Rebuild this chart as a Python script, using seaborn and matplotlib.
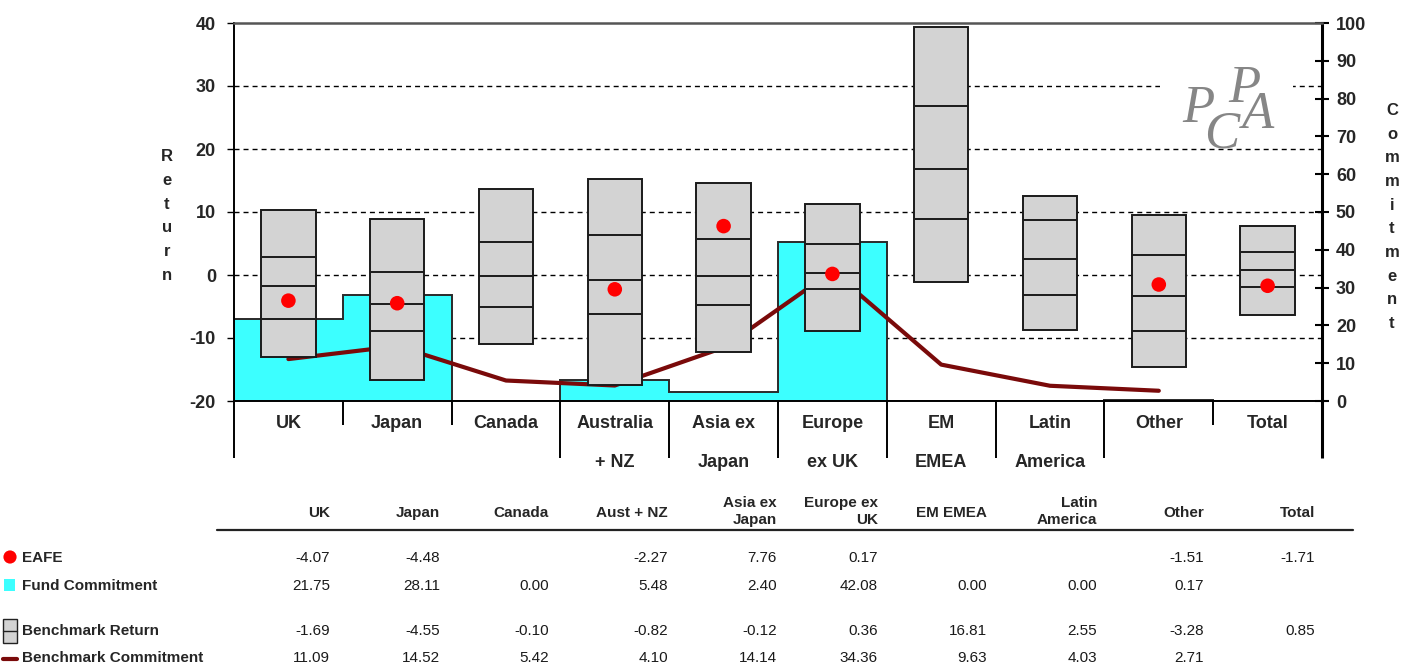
import numpy as np
import matplotlib
matplotlib.use("Agg")
import matplotlib.pyplot as plt
import matplotlib.transforms as mtransforms
from matplotlib.patches import Rectangle
from matplotlib import font_manager
import seaborn as sns

# ---------------- data ----------------
categories = ["UK", "Japan", "Canada", "Australia\n+ NZ", "Asia ex\nJapan",
              "Europe\nex UK", "EM\nEMEA", "Latin\nAmerica", "Other", "Total"]
table_headers = ["UK", "Japan", "Canada", "Aust + NZ", "Asia ex\nJapan",
                 "Europe ex\nUK", "EM EMEA", "Latin\nAmerica", "Other", "Total"]
nan = np.nan
eafe = [-4.07, -4.48, nan, -2.27, 7.76, 0.17, nan, nan, -1.51, -1.71]
fund_commitment = [21.75, 28.11, 0.00, 5.48, 2.40, 42.08, 0.00, 0.00, 0.17, nan]
bench_return = [-1.69, -4.55, -0.10, -0.82, -0.12, 0.36, 16.81, 2.55, -3.28, 0.85]
bench_commitment = [11.09, 14.52, 5.42, 4.10, 14.14, 34.36, 9.63, 4.03, 2.71, nan]
# benchmark return range (5th / 25th / 75th / 95th percentiles)
p95 = [10.3, 8.9, 13.6, 15.2, 14.55, 11.3, 39.3, 12.6, 9.6, 7.8]
p75 = [2.9, 0.4, 5.3, 6.35, 5.65, 4.97, 26.8, 8.7, 3.17, 3.6]
p25 = [-7.0, -8.9, -5.1, -6.2, -4.76, -2.17, 8.9, -3.1, -8.9, -1.95]
p05 = [-13.0, -16.6, -11.0, -17.5, -12.3, -8.9, -1.06, -8.7, -14.6, -6.35]
return_ticks = [-20, -10, 0, 10, 20, 30, 40]
commit_ticks = [0, 10, 20, 30, 40, 50, 60, 70, 80, 90, 100]
row_labels = ["EAFE", "Fund Commitment", "Benchmark Return", "Benchmark Commitment"]

# ---------------- style ----------------
sns.set_style("white")
names = {f.name for f in font_manager.fontManager.ttflist}
SANS = "Liberation Sans" if "Liberation Sans" in names else "DejaVu Sans"
SERIF = "Liberation Serif" if "Liberation Serif" in names else "DejaVu Serif"
plt.rcParams["font.family"] = [SANS, "DejaVu Sans"]

CYAN = "#3cffff"
BOXGRAY = "#d3d3d3"
MAROON = "#7a0a0a"

W, H = 1411, 667
fig = plt.figure(figsize=(W / 100, H / 100), dpi=100)
fig.patch.set_facecolor("white")

L, R, T, B = 234, 1322, 23, 401
pos = [L / W, 1 - B / H, (R - L) / W, (B - T) / H]

ax_base = fig.add_axes(pos, zorder=0)
ax_com = ax_base.twinx()
ax_com.set_zorder(1)
ax_top = fig.add_axes(pos, sharex=ax_base, sharey=ax_base, zorder=2)
ax_top.patch.set_visible(False)
ax_com.patch.set_visible(False)

n = len(categories)
x = np.arange(n)
ax_base.set_xlim(-0.5, n - 0.5)
ax_base.set_ylim(-20, 40)
ax_com.set_ylim(0, 100)

# ---- base axis: gridlines + left ticks ----
ax_base.set_yticks(return_ticks)
ax_base.set_yticklabels([str(t) for t in return_ticks], fontsize=13, fontweight="bold")
ax_base.tick_params(axis="y", direction="out", length=5, width=1, pad=8, left=True, color="black")
ax_base.set_xticks([])
ax_base.yaxis.grid(True, color="black", lw=1, ls=(0, (3.6, 2.9)))
gl = ax_base.get_ygridlines()
gl[0].set_visible(False)
gl[-1].set_visible(False)
for s in ax_base.spines.values():
    s.set_visible(False)

# ---- commitment axis: cyan fund commitment + benchmark commitment line ----
edges = np.arange(n + 1) - 0.5
fc = np.nan_to_num(np.array(fund_commitment, dtype=float))
ax_com.stairs(fc, edges, fill=True, color=CYAN, baseline=0, zorder=1)
ax_com.stairs(fc, edges, fill=False, edgecolor="#2a2a2a", lw=1.4, baseline=0, zorder=1.1)
bc = np.array(bench_commitment, dtype=float)
ok = ~np.isnan(bc)
sns.lineplot(x=x[ok], y=bc[ok], ax=ax_com, color=MAROON, lw=3, sort=False, zorder=2)
ax_com.set_xlabel("")
ax_com.set_ylabel("")
ax_com.set_yticks(commit_ticks)
ax_com.set_yticklabels([str(t) for t in commit_ticks], fontsize=13, fontweight="bold")
ax_com.tick_params(axis="y", direction="inout", length=10, width=1.5, pad=5, right=True, color="black")
for s in ax_com.spines.values():
    s.set_visible(False)

# ---- top axis: boxes, dots, spines ----
lo = np.array(p05); hi = np.array(p95)
ax_top.bar(x, hi - lo, bottom=lo, width=0.5, color=BOXGRAY, edgecolor="#1a1a1a", lw=1.4, zorder=2)
for arr in (p25, bench_return, p75):
    ax_top.hlines(arr, x - 0.245, x + 0.245, color="#1a1a1a", lw=1.4, zorder=3)
ea = np.array(eafe, dtype=float)
ok = ~np.isnan(ea)
sns.scatterplot(x=x[ok], y=ea[ok], ax=ax_top, color="#ff0000", s=110, edgecolor="none", zorder=4)
ax_top.set_xlabel(""); ax_top.set_ylabel("")
ax_top.tick_params(left=False, bottom=False, labelleft=False, labelbottom=False)
for side in ("left", "bottom", "right", "top"):
    ax_top.spines[side].set_visible(True)
ax_top.spines["left"].set_color("black"); ax_top.spines["left"].set_linewidth(1.4)
ax_top.spines["bottom"].set_color("black"); ax_top.spines["bottom"].set_linewidth(1.4)
ax_top.spines["right"].set_color("black"); ax_top.spines["right"].set_linewidth(2.2)
ax_top.spines["top"].set_color("#555555"); ax_top.spines["top"].set_linewidth(1.8)

# ---- category separators and labels below the plot ----
px_per_axes = (B - T)
long_y = -(458 - B) / px_per_axes
short_y = -(425 - B) / px_per_axes
blend = mtransforms.blended_transform_factory(ax_top.transData, ax_top.transAxes)
nlines = [c.count("\n") + 1 for c in categories]
for i in range(n + 1):
    left_multi = nlines[i - 1] > 1 if i > 0 else True
    right_multi = nlines[i] > 1 if i < n else True
    yend = long_y if (left_multi or right_multi) else short_y
    lw = 2.2 if i == n else 1.4
    ax_top.plot([i - 0.5, i - 0.5], [0, yend], transform=blend, color="black",
                lw=lw, clip_on=False, solid_capstyle="butt")
line1_y = -(428 - B) / px_per_axes
line2_y = -(467 - B) / px_per_axes
for i, c in enumerate(categories):
    parts = c.split("\n")
    ax_top.text(i, line1_y, parts[0], transform=blend, ha="center", va="baseline",
                fontsize=13, fontweight="bold")
    if len(parts) > 1:
        ax_top.text(i, line2_y, parts[1], transform=blend, ha="center", va="baseline",
                    fontsize=13, fontweight="bold")

# ---- logo ----
def ax_frac(px, py):
    return (px - L) / (R - L), (B - py) / (B - T)

rx0, ry0 = ax_frac(1160, 92)
rx1, ry1 = ax_frac(1293, 80)
ax_base.add_patch(Rectangle((rx0, ry0), rx1 - rx0, ry1 - ry0, transform=ax_base.transAxes,
                            facecolor="white", edgecolor="none", zorder=5))
for ch, (lx, ly) in zip("PCPA", [(1198, 122), (1222, 147), (1244, 102), (1258, 128)]):
    fx, fy = ax_frac(lx, ly)
    ax_top.text(fx, fy, ch, transform=ax_top.transAxes, ha="center", va="baseline",
                fontsize=38, fontstyle="italic", family=SERIF, color="#868686", zorder=6)

# ---- axis titles (stacked letters) ----
fig.text(167 / W, 1 - 216 / H, "\n".join("Return"), ha="center", va="center",
         fontsize=12, fontweight="bold", linespacing=1.72)
fig.text(1392 / W, 1 - 217 / H, "\n".join("Commitment"), ha="center", va="center",
         fontsize=12, fontweight="bold", linespacing=1.72)

# ---------------- data table ----------------
ov = fig.add_axes([0, 0, 1, 1], zorder=10)
ov.set_xlim(0, W); ov.set_ylim(H, 0)
ov.axis("off")
ov.patch.set_visible(False)

col_right = [330, 440, 549, 668, 777, 878, 987, 1097, 1204, 1315]
row_y = [562, 590, 635, 662]
for cx, h in zip(col_right, table_headers):
    parts = h.split("\n")
    if len(parts) == 1:
        ov.text(cx, 517, parts[0], ha="right", va="baseline", fontsize=11, fontweight="bold")
    else:
        ov.text(cx, 507, parts[0], ha="right", va="baseline", fontsize=11, fontweight="bold")
        ov.text(cx, 524, parts[1], ha="right", va="baseline", fontsize=11, fontweight="bold")
ov.plot([217, 1353], [530, 530], color="#222222", lw=1.6)

rows = [eafe, fund_commitment, bench_return, bench_commitment]
for ry, vals in zip(row_y, rows):
    for cx, v in zip(col_right, vals):
        if v is None or (isinstance(v, float) and np.isnan(v)):
            continue
        ov.text(cx, ry, f"{v:.2f}", ha="right", va="baseline", fontsize=11, color="#1a1a1a")
for ry, lab in zip(row_y, row_labels):
    ov.text(22, ry, lab, ha="left", va="baseline", fontsize=11, fontweight="bold")

# legend icons
ov.scatter([10], [row_y[0] - 5], s=90, color="#ff0000", marker="o", edgecolor="none")
ov.add_patch(Rectangle((4, row_y[1] - 11), 11, 12, facecolor=CYAN, edgecolor="none"))
ov.add_patch(Rectangle((3, row_y[2] - 16), 14, 24, facecolor=BOXGRAY, edgecolor="#222", lw=1))
ov.plot([3, 17], [row_y[2] - 4, row_y[2] - 4], color="#222", lw=1)
ov.plot([3, 17], [row_y[3] - 3, row_y[3] - 3], color=MAROON, lw=3)

fig.savefig("out.png", dpi=100, facecolor="white")
